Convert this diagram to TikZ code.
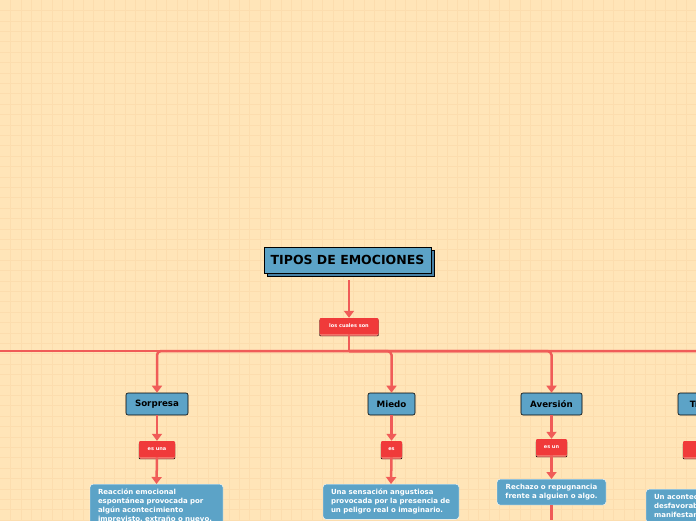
\documentclass[tikz,border=0pt]{standalone}
\usepackage{fontspec}
\setmainfont{DejaVu Sans}
\usetikzlibrary{arrows.meta,shadows}

\definecolor{paper}{RGB}{255,229,184}
\definecolor{gridc}{RGB}{252,221,174}
\definecolor{linkc}{RGB}{240,92,88}
\definecolor{boxblue}{RGB}{92,163,199}
\definecolor{shadeblue}{RGB}{70,128,165}
\definecolor{tagred}{RGB}{240,58,58}
\definecolor{tagshade}{RGB}{246,120,110}

\tikzset{
  titlebox/.style={draw=black, thick, fill=boxblue, font=\bfseries\fontsize{12.5}{14}\selectfont,
    minimum width=167pt, minimum height=26pt, inner sep=0pt,
    copy shadow={shadow xshift=3pt, shadow yshift=-3pt, fill=shadeblue, draw=black, thick}},
  emobox/.style={draw=black, semithick, fill=boxblue, rounded corners=2pt,
    font=\bfseries\fontsize{8.7}{10}\selectfont, minimum height=22pt, inner sep=0pt},
  tagbox/.style={fill=tagred, rounded corners=1pt, text=white,
    font=\bfseries\fontsize{5}{6}\selectfont, minimum height=16pt, inner sep=0pt,
    copy shadow={shadow xshift=0pt, shadow yshift=-2pt, fill=tagshade}},
  descbox/.style={draw=white, thin, fill=boxblue, rounded corners=3pt, text=white,
    font=\bfseries\fontsize{7}{9}\selectfont, inner xsep=8pt, inner ysep=5pt, anchor=north},
  link/.style={draw=linkc, line width=2.5pt},
  arr/.style={link, -{Triangle[width=10pt,length=7pt]}}
}

\begin{document}
\begin{tikzpicture}[x=1pt, y=-1pt]
    % Paper and grid
    \fill[paper] (0,0) rectangle (696,520);
    \useasboundingbox (0,0) rectangle (696,520);
    \clip (0,0) rectangle (696,520);
    \foreach \g in {0,...,67} \draw[gridc, line width=0.8pt] (10.5+10.4*\g,0) -- (10.5+10.4*\g,520);
    \foreach \g in {0,...,50} \draw[gridc, line width=0.8pt] (0,10.5+10.4*\g) -- (696,10.5+10.4*\g);

    % Main topic
    \node[titlebox] (tipos) at (347.5,260) {TIPOS DE EMOCIONES};
    \node[tagbox, minimum width=59pt] (cuales) at (349,326) {los cuales son};
    \draw[arr, shorten <=7pt] (cuales.north |- tipos.south) -- (cuales.north);

    % Hub line
    \coordinate (hub) at (349,351);
    \coordinate (hubL) at (0,351);
    \coordinate (hubR) at (696,351);
    \draw[link] (cuales.south) -- (hub);
    \draw[link] (hubL) -- (hubR);

    % Emotions
    \node[emobox, minimum width=62pt] (sorpresa) at (157,404) {Sorpresa};
    \node[emobox, minimum width=47pt] (miedo) at (391.5,404) {Miedo};
    \node[emobox, minimum width=61pt] (aversion) at (551.5,404) {Aversión};
    \node[emobox, minimum width=62pt] (tristeza) at (709,404) {Tristeza};
    \foreach \n in {sorpresa,miedo,aversion,tristeza}
        \draw[arr, rounded corners=4pt] (hub) -| (\n.north);

    % Connecting words
    \node[tagbox, minimum width=36pt] (esuna) at (157,449) {es una};
    \node[tagbox, minimum width=21pt] (es) at (391.5,449) {es};
    \node[tagbox, minimum width=31pt] (esun) at (551.5,447) {es un};
    \node[tagbox, minimum width=50pt] (ocurre) at (708,449) {ocurre};
    \draw[arr] (sorpresa.south) -- (esuna.north);
    \draw[arr] (miedo.south) -- (es.north);
    \draw[arr] (aversion.south) -- (esun.north);
    \draw[arr] (tristeza.south) -- (ocurre.north);

    % Descriptions
    \node[descbox, text width=117pt, align=left] (dsorpresa) at (156.5,484)
        {Reacción emocional\\espontánea provocada por\\algún acontecimiento\\imprevisto, extraño o nuevo.};
    \node[descbox, text width=120pt, align=left] (dmiedo) at (391,484)
        {Una sensación angustiosa\\provocada por la presencia de\\un peligro real o imaginario.};
    \node[descbox, text width=93pt, align=center] (daversion) at (551.5,479)
        {Rechazo o repugnancia\\frente a alguien o algo.};
    \node[descbox, text width=110pt, align=left] (dtristeza) at (709,489)
        {Un acontecimiento\\desfavorable que se\\manifestando};
    \draw[arr] (esuna.south) -- (dsorpresa.north);
    \draw[arr] (es.south) -- (dmiedo.north);
    \draw[arr] (esun.south) -- (daversion.north);
    \draw[arr] (ocurre.south) -- (dtristeza.north);
    \coordinate (avend) at (551.5,520);
    \draw[link] (daversion.south) -- (avend);
\end{tikzpicture}
\end{document}
